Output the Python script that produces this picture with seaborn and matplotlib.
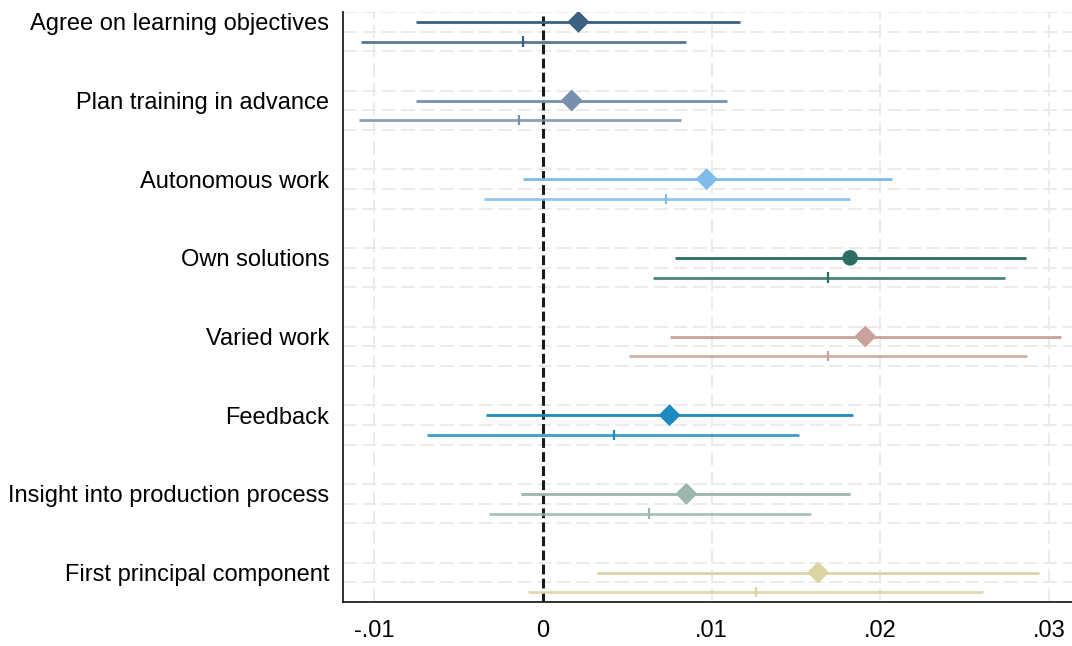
import matplotlib
matplotlib.use("Agg")
import matplotlib.pyplot as plt
import numpy as np
import pandas as pd
import seaborn as sns

# coefficient estimates
labels = ["Agree on learning objectives", "Plan training in advance", "Autonomous work",
          "Own solutions", "Varied work", "Feedback",
          "Insight into production process", "First principal component"]
b1 = [0.0021, 0.0017, 0.0097, 0.0182, 0.0191, 0.0075, 0.0085, 0.0163]
lo1 = [-0.0075, -0.0075, -0.0012, 0.0078, 0.0075, -0.0034, -0.0013, 0.0032]
hi1 = [0.0117, 0.0109, 0.0207, 0.0286, 0.0307, 0.0184, 0.0182, 0.0294]
b2 = [-0.0012, -0.0014, 0.0073, 0.0169, 0.0169, 0.0042, 0.0063, 0.0126]
lo2 = [-0.0108, -0.0109, -0.0035, 0.0065, 0.0051, -0.0069, -0.0032, -0.0009]
hi2 = [0.0085, 0.0082, 0.0182, 0.0274, 0.0287, 0.0152, 0.0159, 0.0261]
colors = ["#3c6080", "#7890ad", "#80bce9", "#2b6e63", "#c9a39b", "#1b8bbf", "#9bb7ac", "#d9d4a3"]
markers = ["D", "D", "D", "o", "D", "D", "D", "D"]
xticks = [-0.01, 0, 0.01, 0.02, 0.03]
xticklabels = ["-.01", "0", ".01", ".02", ".03"]

sns.set_style("white")
plt.rcParams["font.family"] = ["Liberation Sans", "DejaVu Sans"]

pos1 = [4 * i for i in range(len(labels))]
pos2 = [4 * i + 1 for i in range(len(labels))]

df1 = pd.DataFrame({"label": labels, "b": b1, "lo": lo1, "hi": hi1, "y": pos1})
df2 = pd.DataFrame({"label": labels, "b": b2, "lo": lo2, "hi": hi2, "y": pos2})
pal = dict(zip(labels, colors))

fig = plt.figure(figsize=(10.72, 6.46), dpi=100)
ax = fig.add_axes([0.32, 0.0681, 0.68, 0.9133])

# grid
for x in xticks:
    if x != 0:
        ax.axvline(x, color="#ebebeb", lw=1.4, dashes=(7, 3), zorder=0)
for i in range(len(labels)):
    for g in (4 * i - 0.5, 4 * i + 0.5, 4 * i + 1.5):
        ax.axhline(g, color="#ebebeb", lw=1.4, dashes=(7, 3), zorder=0)

ax.axvline(0, color="#1a1a1a", lw=2.2, dashes=(3.2, 1.4), zorder=1)

# confidence intervals
ax.hlines(df1["y"], df1["lo"], df1["hi"], colors=colors, lw=2.0, zorder=2)
ax.hlines(df2["y"], df2["lo"], df2["hi"], colors=colors, lw=2.0, alpha=0.85, zorder=2)

# point estimates
sns.scatterplot(data=df1, x="b", y="y", hue="label", palette=pal, style="label",
                markers=dict(zip(labels, markers)), s=125, linewidth=0,
                legend=False, ax=ax, zorder=3)
sns.scatterplot(data=df2, x="b", y="y", hue="label", palette=pal, marker="|",
                s=55, linewidth=1.6, legend=False, ax=ax, zorder=3)

ax.set_xlim(-0.01185, 0.03135)
ax.set_ylim(29.5, -0.5)

ax.set_xticks(xticks)
ax.set_xticklabels(xticklabels, fontsize=17, color="black")
ticks_y = sorted(pos1 + pos2)
ax.set_yticks(ticks_y)
ax.set_yticklabels([labels[t // 4] if t % 4 == 0 else "" for t in ticks_y],
                   fontsize=17, color="black")
ax.tick_params(axis="both", direction="out", length=7, width=1.2, color="#222222", pad=3)
ax.tick_params(axis="x", pad=6)
ax.set_xlabel("")
ax.set_ylabel("")

sns.despine(ax=ax, top=True, right=True)
for s in ("left", "bottom"):
    ax.spines[s].set_color("#222222")
    ax.spines[s].set_linewidth(1.3)

fig.savefig("out.png", dpi=100)
